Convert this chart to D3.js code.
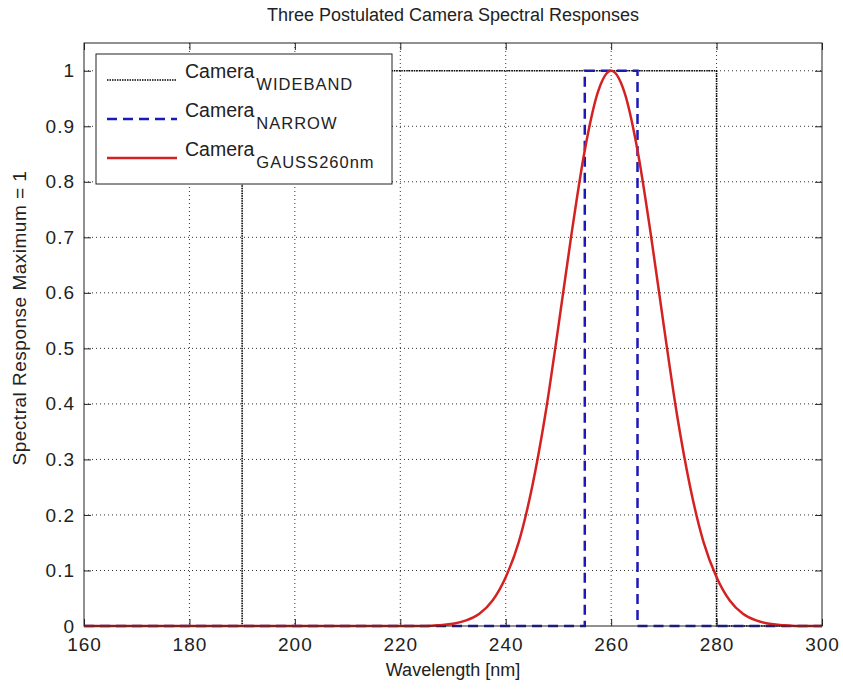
<!DOCTYPE html>
<html>
<head>
<meta charset="utf-8">
<style>
body { margin: 0; background: #fff; }
text { font-family: Arial, "Liberation Sans", sans-serif; fill: #222; }
</style>
</head>
<body>
<svg id="viz"></svg>
<script src="https://cdn.jsdelivr.net/npm/d3@7"></script>
<script>
var width = 843;
var height = 690;

// tick values
var wavelengthTicks = [160, 180, 200, 220, 240, 260, 280, 300];
var responseTicks = [0, 0.1, 0.2, 0.3, 0.4, 0.5, 0.6, 0.7, 0.8, 0.9, 1];

// wideband camera: box from 190 to 280 nm
var widebandX = [160, 190, 190, 280, 280, 300];
var widebandY = [0, 0, 1, 1, 0, 0];

// narrow camera: box from 255 to 265 nm
var narrowX = [160, 255, 255, 265, 265, 300];
var narrowY = [0, 0, 1, 1, 0, 0];

// gaussian camera
var gaussX = [160, 225, 227.5, 230, 232.5, 235, 237.5, 240, 242.5, 245, 247.5, 250, 252.5, 255, 257.5, 260,
              262.5, 265, 267.5, 270, 272.5, 275, 277.5, 280, 282.5, 285, 287.5, 290, 292.5, 295, 300];
var gaussY = [0, 0, 0.0015, 0.004, 0.01, 0.022, 0.046, 0.088, 0.152, 0.25, 0.38, 0.54, 0.707, 0.857, 0.962, 1,
              0.962, 0.857, 0.707, 0.54, 0.38, 0.25, 0.152, 0.088, 0.046, 0.022, 0.01, 0.004, 0.0015, 0, 0];

var legendNames = ["WIDEBAND", "NARROW", "GAUSS260nm"];

// plot area (not "top": that name is taken by window.top)
var pLeft = 84, pRight = 822, pTop = 43, pBottom = 626;

var x = d3.scaleLinear().domain([160, 300]).range([pLeft, pRight]);
var y = d3.scaleLinear().domain([0, 1.05]).range([pBottom, pTop]);

var svg = d3.select("#viz").attr("width", width).attr("height", height);

// title
svg.append("text")
    .attr("x", (pLeft + pRight) / 2)
    .attr("y", 21)
    .attr("text-anchor", "middle")
    .style("font-size", "18px")
    .text("Three Postulated Camera Spectral Responses");

// grid
var grid = svg.append("g").attr("class", "grid");
grid.selectAll("line.gx")
    .data(wavelengthTicks.slice(1, -1))
    .enter().append("line")
    .attr("x1", function(d) { return x(d); })
    .attr("x2", function(d) { return x(d); })
    .attr("y1", pTop).attr("y2", pBottom)
    .attr("stroke", "#333")
    .attr("stroke-width", 1)
    .attr("stroke-dasharray", "1,3");
grid.selectAll("line.gy")
    .data(responseTicks.slice(1))
    .enter().append("line")
    .attr("y1", function(d) { return y(d); })
    .attr("y2", function(d) { return y(d); })
    .attr("x1", pLeft).attr("x2", pRight)
    .attr("stroke", "#333")
    .attr("stroke-width", 1)
    .attr("stroke-dasharray", "1,3");

// axes with inward ticks on all four sides
var tickLen = 7;
svg.append("g")
    .attr("transform", "translate(0," + pBottom + ")")
    .call(d3.axisBottom(x).tickValues(wavelengthTicks).tickSize(-tickLen).tickPadding(tickLen + 5).tickFormat(d3.format("d")))
    .call(function(g) { g.select(".domain").remove(); });
svg.append("g")
    .attr("transform", "translate(0," + pTop + ")")
    .call(d3.axisTop(x).tickValues(wavelengthTicks).tickSize(-tickLen).tickFormat(""))
    .call(function(g) { g.select(".domain").remove(); });
svg.append("g")
    .attr("transform", "translate(" + pLeft + ",0)")
    .call(d3.axisLeft(y).tickValues(responseTicks).tickSize(-tickLen).tickPadding(tickLen + 2).tickFormat(function(d) { return d3.format("~g")(d); }))
    .call(function(g) { g.select(".domain").remove(); });
svg.append("g")
    .attr("transform", "translate(" + pRight + ",0)")
    .call(d3.axisRight(y).tickValues(responseTicks).tickSize(-tickLen).tickFormat(""))
    .call(function(g) { g.select(".domain").remove(); });

svg.selectAll(".tick text")
    .style("font-size", "19px")
    .style("letter-spacing", "1px")
    .style("font-family", "Arial, 'Liberation Sans', sans-serif")
    .attr("fill", "#222");
svg.selectAll(".tick line").attr("stroke", "#222");

// series
var lineGen = function(xs, ys, curve) {
    var pts = xs.map(function(d, i) { return [d, ys[i]]; });
    return d3.line()
        .x(function(d) { return x(d[0]); })
        .y(function(d) { return y(d[1]); })
        .curve(curve || d3.curveLinear)(pts);
};

var plot = svg.append("g");

plot.append("path")
    .attr("d", lineGen(widebandX, widebandY))
    .attr("fill", "none")
    .attr("stroke", "#000")
    .attr("stroke-width", 1.6)
    .attr("stroke-dasharray", "1.5,1");

plot.append("path")
    .attr("d", lineGen(narrowX, narrowY))
    .attr("fill", "none")
    .attr("stroke", "#1a1ab4")
    .attr("stroke-width", 2.5)
    .attr("stroke-dasharray", "10,6");

plot.append("path")
    .attr("d", lineGen(gaussX, gaussY, d3.curveMonotoneX))
    .attr("fill", "none")
    .attr("stroke", "#d42222")
    .attr("stroke-width", 2.5);

// axes box
svg.append("rect")
    .attr("x", pLeft).attr("y", pTop)
    .attr("width", pRight - pLeft).attr("height", pBottom - pTop)
    .attr("fill", "none")
    .attr("stroke", "#222")
    .attr("stroke-width", 1);

// axis labels
svg.append("text")
    .attr("x", (pLeft + pRight) / 2)
    .attr("y", 676)
    .attr("text-anchor", "middle")
    .style("font-size", "18px")
    .text("Wavelength [nm]");

svg.append("text")
    .attr("transform", "translate(26,318) rotate(-90)")
    .attr("text-anchor", "middle")
    .style("font-size", "19px")
    .style("letter-spacing", "0.5px")
    .text("Spectral Response Maximum = 1");

// legend
var legend = svg.append("g");
legend.append("rect")
    .attr("x", 96).attr("y", 54)
    .attr("width", 296).attr("height", 130)
    .attr("fill", "#fff")
    .attr("stroke", "#222")
    .attr("stroke-width", 1);

var legendStyles = [
    { stroke: "#000", width: 1.6, dash: "1.5,1" },
    { stroke: "#1a1ab4", width: 2.5, dash: "10,6" },
    { stroke: "#d42222", width: 2.5, dash: null }
];
var rowY = [80, 119, 158];

legendNames.forEach(function(name, i) {
    var s = legendStyles[i];
    legend.append("line")
        .attr("x1", 107).attr("x2", 177)
        .attr("y1", rowY[i]).attr("y2", rowY[i])
        .attr("stroke", s.stroke)
        .attr("stroke-width", s.width)
        .attr("stroke-dasharray", s.dash);
    var t = legend.append("text")
        .attr("x", 185)
        .attr("y", rowY[i] - 2)
        .style("font-size", "19.5px");
    t.append("tspan").text("Camera");
    t.append("tspan")
        .attr("dx", 2)
        .attr("dy", 12)
        .style("font-size", "16.5px")
        .style("letter-spacing", "1px")
        .text(name);
});
</script>
</body>
</html>
